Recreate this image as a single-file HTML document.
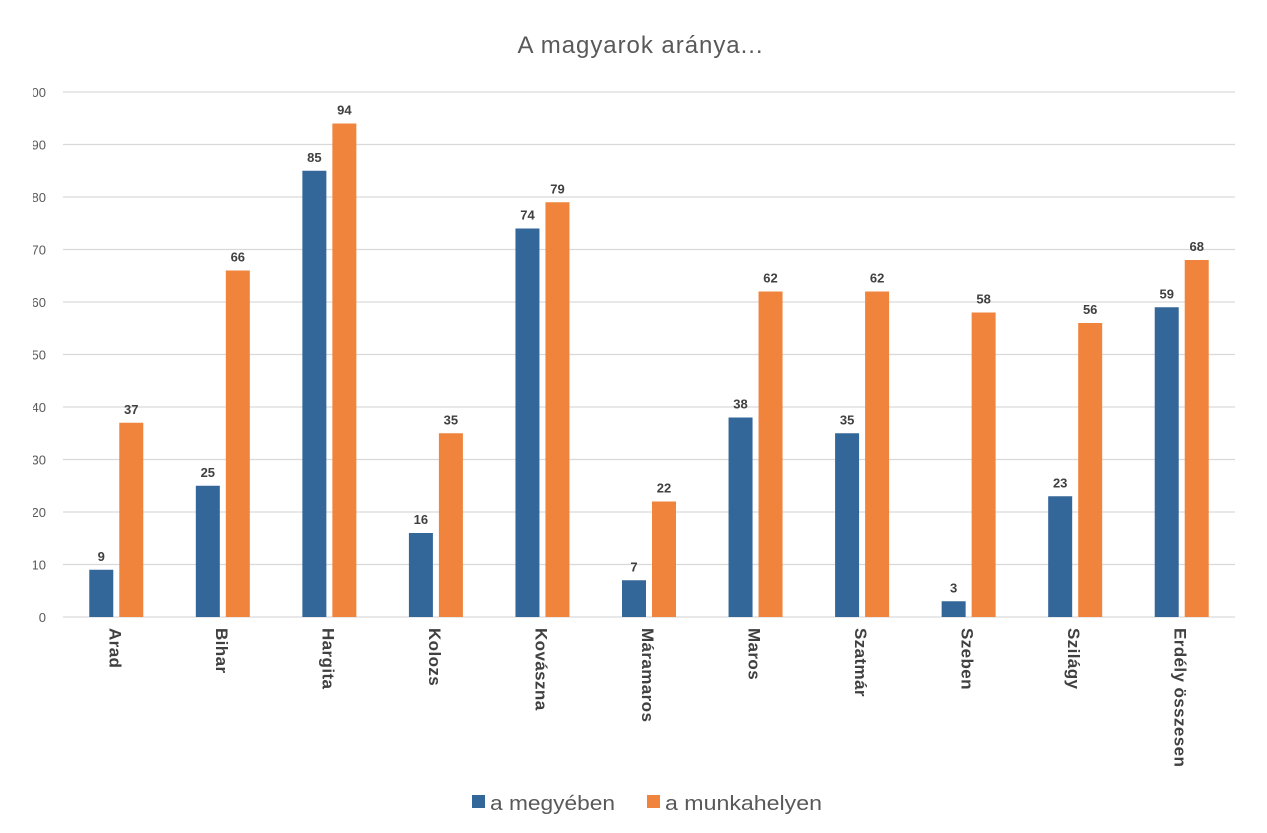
<!DOCTYPE html>
<html><head><meta charset="utf-8"><style>
body{margin:0;background:#fff;}
svg{display:block;font-family:"Liberation Sans",sans-serif;}
</style></head><body>
<svg id="chart" width="1267" height="833">
<defs><clipPath id="yclip"><rect x="33" y="0" width="40" height="833"/></clipPath></defs>
<text x="640" y="53" text-anchor="middle" font-size="24" fill="#595959" textLength="245" lengthAdjust="spacing">A magyarok aránya...</text>
<g id="grid"></g><g id="yticks" clip-path="url(#yclip)"></g><g id="bars"></g><g id="xlabels"></g>
<g>
<rect x="472" y="795" width="13" height="13" fill="#336699"/>
<text x="490" y="810" font-size="20" fill="#595959" textLength="125" lengthAdjust="spacingAndGlyphs">a megyében</text>
<rect x="647" y="795" width="13" height="13" fill="#F0843C"/>
<text x="665" y="810" font-size="20" fill="#595959" textLength="157" lengthAdjust="spacingAndGlyphs">a munkahelyen</text>
</g>
</svg>
<script>
const categories=["Arad","Bihar","Hargita","Kolozs","Kovászna","Máramaros","Maros","Szatmár","Szeben","Szilágy","Erdély összesen"];
const megyeben=[9,25,85,16,74,7,38,35,3,23,59];
const munkahelyen=[37,66,94,35,79,22,62,62,58,56,68];
const yTicks=[0,10,20,30,40,50,60,70,80,90,100];
const NS="http://www.w3.org/2000/svg";
const x0=63,x1=1235,y0=617,y100=92;
const yS=v=>y0-(y0-y100)*v/100;
const bw=(x1-x0)/categories.length;
function mk(t,a,p){const e=document.createElementNS(NS,t);for(const k in a)e.setAttribute(k,a[k]);p.appendChild(e);return e;}
const grid=document.getElementById('grid'),yt=document.getElementById('yticks'),bars=document.getElementById('bars'),xl=document.getElementById('xlabels');
yTicks.forEach(v=>{
 const l=mk('line',{x1:x0,x2:x1,y1:yS(v),y2:yS(v),stroke:'#d9d9d9','stroke-width':1.3},grid);
 
 
 const t=mk('text',{x:46,y:yS(v)+5,'text-anchor':'end','font-size':13,fill:'#595959'},yt);
 t.textContent=v;
 
 
});
categories.forEach((c,i)=>{
 const cx=x0+bw*(i+0.5);
 [[megyeben,'#336699',-27,'megyeben'],[munkahelyen,'#F0843C',3,'munkahelyen']].forEach(([arr,col,off,nm])=>{
  const v=arr[i];
  const r=mk('rect',{x:cx+off,y:yS(v),width:24,height:y0-yS(v),fill:col},bars);
  
  
  const t=mk('text',{x:cx+off+12,y:yS(v)-9,'text-anchor':'middle','font-size':13,'font-weight':'bold',fill:'#404040'},bars);
  t.textContent=v;
  
  
 });
 const t=mk('text',{x:0,y:0,'font-size':17,'font-weight':'bold','letter-spacing':0.4,fill:'#404040',transform:`translate(${cx-7},628) rotate(90)`},xl);
 t.textContent=c;
 
 
});
</script>
</body></html>
